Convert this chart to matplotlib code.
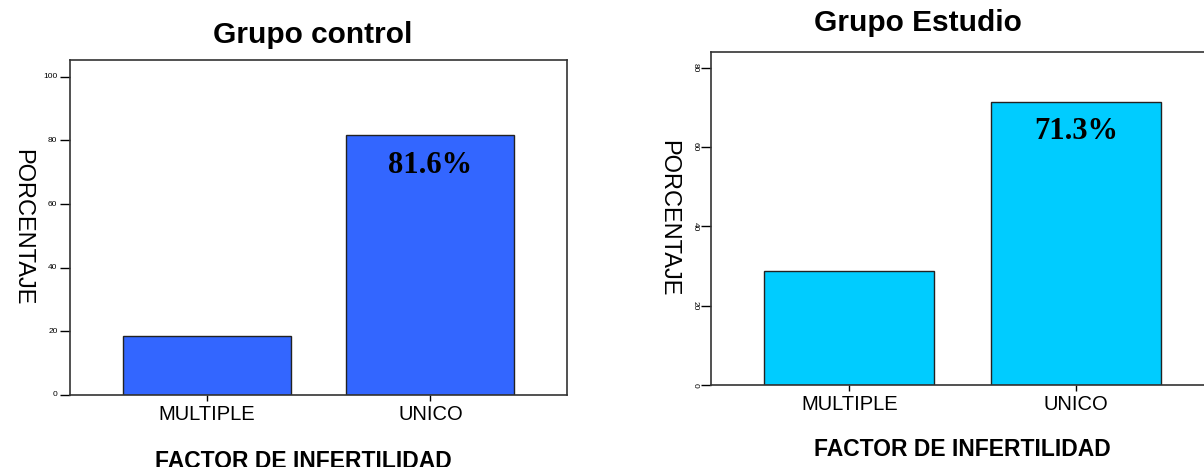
import matplotlib
matplotlib.use("Agg")
import matplotlib.pyplot as plt

# 1204 x 467 image

categories = ["MULTIPLE", "UNICO"]
control_vals = [18.4, 81.6]
estudio_vals = [28.7, 71.3]
control_label = "81.6%"
estudio_label = "71.3%"
control_ticks = [0, 20, 40, 60, 80, 100]
estudio_ticks = [0, 20, 40, 60, 80]

plt.rcParams['font.family'] = ['Liberation Sans', 'DejaVu Sans']

fig = plt.figure(figsize=(12.04, 4.67), dpi=100)

ax1 = fig.add_axes([70/1204, 1 - 395/467, 497/1204, 335/467])
ax2 = fig.add_axes([711/1204, 1 - 385/467, 503/1204, 333/467])


def draw(ax, vals, color, ymax, ticks, title, title_x, title_pad, label, label_off, tick_rot):
    x = range(len(categories))
    ax.bar(x, vals, width=0.75, color=color, edgecolor="#222222", linewidth=1.0)
    ax.set_xlim(-0.61, 1.61)
    ax.set_ylim(0, ymax)
    ax.set_xticks(list(x))
    ax.set_xticklabels(categories, fontsize=14.5)
    ax.set_yticks(ticks)
    ax.set_yticklabels([str(t) for t in ticks], fontsize=6, rotation=tick_rot, va="center")
    ax.tick_params(axis="y", length=7, width=1, pad=2)
    ax.tick_params(axis="x", length=4, width=1, pad=3)
    for s in ax.spines.values():
        s.set_linewidth(1.2)
        s.set_color("#333333")
    ax.set_title(title, fontsize=21.5, fontweight="bold", x=title_x, pad=title_pad)
    ax.set_xlabel("FACTOR DE INFERTILIDAD", fontsize=16.5, fontweight="bold")
    ax.set_ylabel("PORCENTAJE", fontsize=17, rotation=-90, va="center")
    ax.annotate(label, xy=(1, vals[1]), xytext=(0, label_off), textcoords="offset points",
                ha="center", va="center", fontsize=22, fontweight="bold",
                family="Liberation Serif")


draw(ax1, control_vals, "#3366FF", 105.3, control_ticks, "Grupo control", 0.489, 12,
     control_label, -22, 0)
draw(ax2, estudio_vals, "#00CCFF", 84.0, estudio_ticks, "Grupo Estudio", 0.411, 15,
     estudio_label, -21, -90)

ax1.yaxis.set_label_coords(-0.097, 0.5)
ax2.yaxis.set_label_coords(-0.085, 0.5)
ax1.xaxis.set_label_coords(0.47, -0.165)
ax2.xaxis.set_label_coords(0.5, -0.16)

fig.savefig("out.png", dpi=100)
